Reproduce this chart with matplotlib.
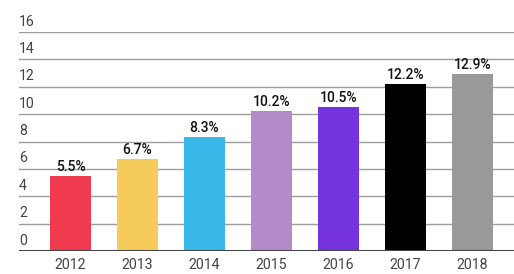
import matplotlib
matplotlib.use("Agg")
import matplotlib.pyplot as plt
from matplotlib.transforms import blended_transform_factory

years = ["2012", "2013", "2014", "2015", "2016", "2017", "2018"]
values = [5.5, 6.7, 8.3, 10.2, 10.5, 12.2, 12.9]
labels = ["5.5%", "6.7%", "8.3%", "10.2%", "10.5%", "12.2%", "12.9%"]
colors = ["#EF3A4F", "#F5CB5C", "#3AB8EA", "#B38BC8", "#7533DE", "#000000", "#999999"]
yticks = [0, 2, 4, 6, 8, 10, 12, 14, 16]

plt.rcParams['font.family'] = ['Roboto', 'DejaVu Sans']

fig = plt.figure(figsize=(5.14, 2.74), dpi=100)
W, H = 514, 274
left, right = 19, 514
bottom_px, top_px = 251, 32
ax = fig.add_axes([left / W, 1 - bottom_px / H, (right - left) / W, (bottom_px - top_px) / H])

x = list(range(len(years)))
ax.bar(x, values, width=0.61, color=colors, zorder=3)
ax.set_ylim(0, 16)
ax.set_xlim((left - 70.5) / 67, (right - 70.5) / 67)

for v in yticks[1:]:
    ax.axhline(v, color="#9e9e9e", lw=1, zorder=1)
ax.axhline(0, color="#444444", lw=2.2, zorder=4)

trans = blended_transform_factory(ax.transAxes, ax.transData)
for v in yticks:
    ax.text(0.0, v + 0.25, str(v), transform=trans, ha='left', va='bottom',
            fontsize=10.2, color="#444444")

for xi, v, lab in zip(x, values, labels):
    ax.text(xi, v + 0.15, lab, ha='center', va='bottom', fontsize=10,
            fontweight='medium', color="#111111", zorder=5)

ax.set_xticks(x)
ax.set_xticklabels(years, fontsize=10.2, color="#444444")
ax.tick_params(axis='x', length=0, pad=5)
ax.set_yticks([])
for s in ax.spines.values():
    s.set_visible(False)

fig.savefig("out.png", dpi=100)
